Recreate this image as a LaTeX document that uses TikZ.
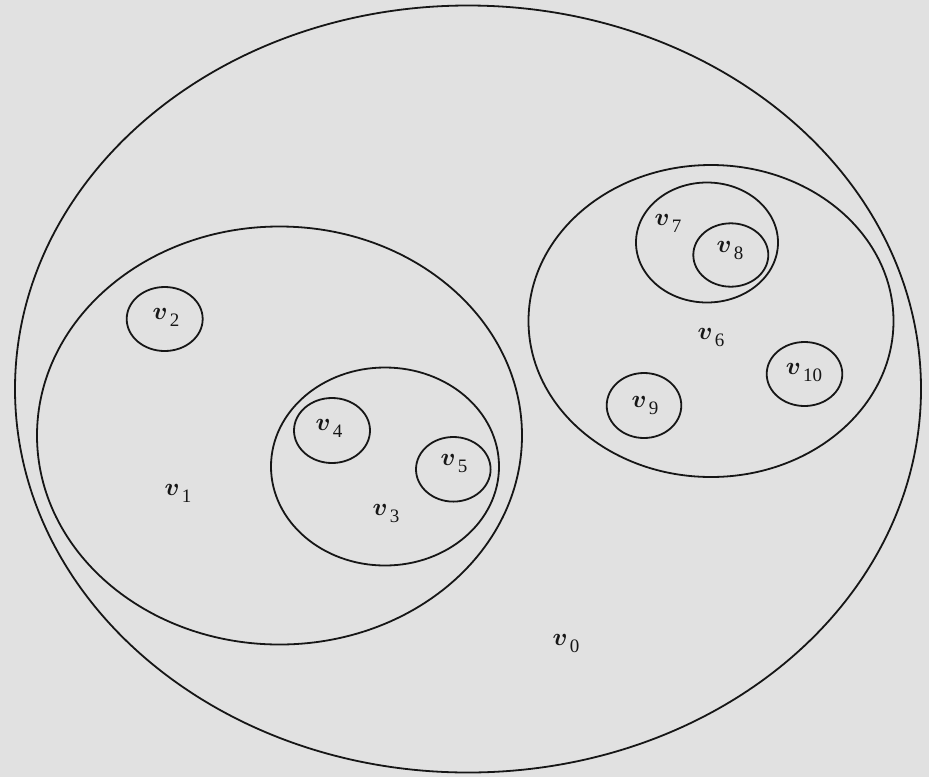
\documentclass[tikz,border=0pt]{standalone}
\usepackage{fontspec}
\newfontfamily\digitfont{Liberation Serif}
\usetikzlibrary{shapes.geometric}
\definecolor{bg}{HTML}{E1E1E1}
\definecolor{ink}{HTML}{161616}
\newcommand\vlab[1]{$\boldmath v$\hspace{2pt}\raisebox{-7pt}{\fontsize{19}{19}\digitfont #1}}
\begin{document}
\begin{tikzpicture}[x=1pt,y=-1pt,
  region/.style={draw=ink,line width=1.8pt,ellipse,inner sep=0pt},
  lab/.style={text=ink,inner sep=0pt,anchor=mid,font=\fontsize{25}{30}\selectfont\boldmath}]
\fill[bg] (0,0) rectangle (929,777);
\useasboundingbox (0,0) rectangle (929,777);
% regions
\node[region,minimum width=906pt,minimum height=767pt] (r0) at (468,389) {};
\node[region,minimum width=485pt,minimum height=418pt] (r1) at (279.5,435.5) {};
\node[region,minimum width=76pt,minimum height=64pt] (r2) at (164.7,319) {};
\node[region,minimum width=228pt,minimum height=198pt] (r3) at (385,466.5) {};
\node[region,minimum width=76pt,minimum height=65pt] (r4) at (332,430.5) {};
\node[region,minimum width=74.6pt,minimum height=64.6pt] (r5) at (453.3,469.3) {};
\node[region,minimum width=365pt,minimum height=312pt] (r6) at (711,321) {};
\node[region,minimum width=142pt,minimum height=120pt] (r7) at (707,242.5) {};
\node[region,minimum width=75pt,minimum height=63.4pt] (r8) at (730.8,255) {};
\node[region,minimum width=74.6pt,minimum height=65pt] (r9) at (644,405.5) {};
\node[region,minimum width=75.6pt,minimum height=64pt] (r10) at (804.5,374) {};
% labels
\node[lab] (l0) at (566,643) {\vlab{0}};
\node[lab] (l1) at (178,493) {\vlab{1}};
\node[lab] (l2) at (166,317) {\vlab{2}};
\node[lab] (l3) at (386,513) {\vlab{3}};
\node[lab] (l4) at (329,428) {\vlab{4}};
\node[lab] (l5) at (454,463) {\vlab{5}};
\node[lab] (l6) at (711,337) {\vlab{6}};
\node[lab] (l7) at (668,223) {\vlab{7}};
\node[lab] (l8) at (730,250) {\vlab{8}};
\node[lab] (l9) at (645,405) {\vlab{9}};
\node[lab] (l10) at (804,372) {\vlab{10}};
\end{tikzpicture}
\end{document}
